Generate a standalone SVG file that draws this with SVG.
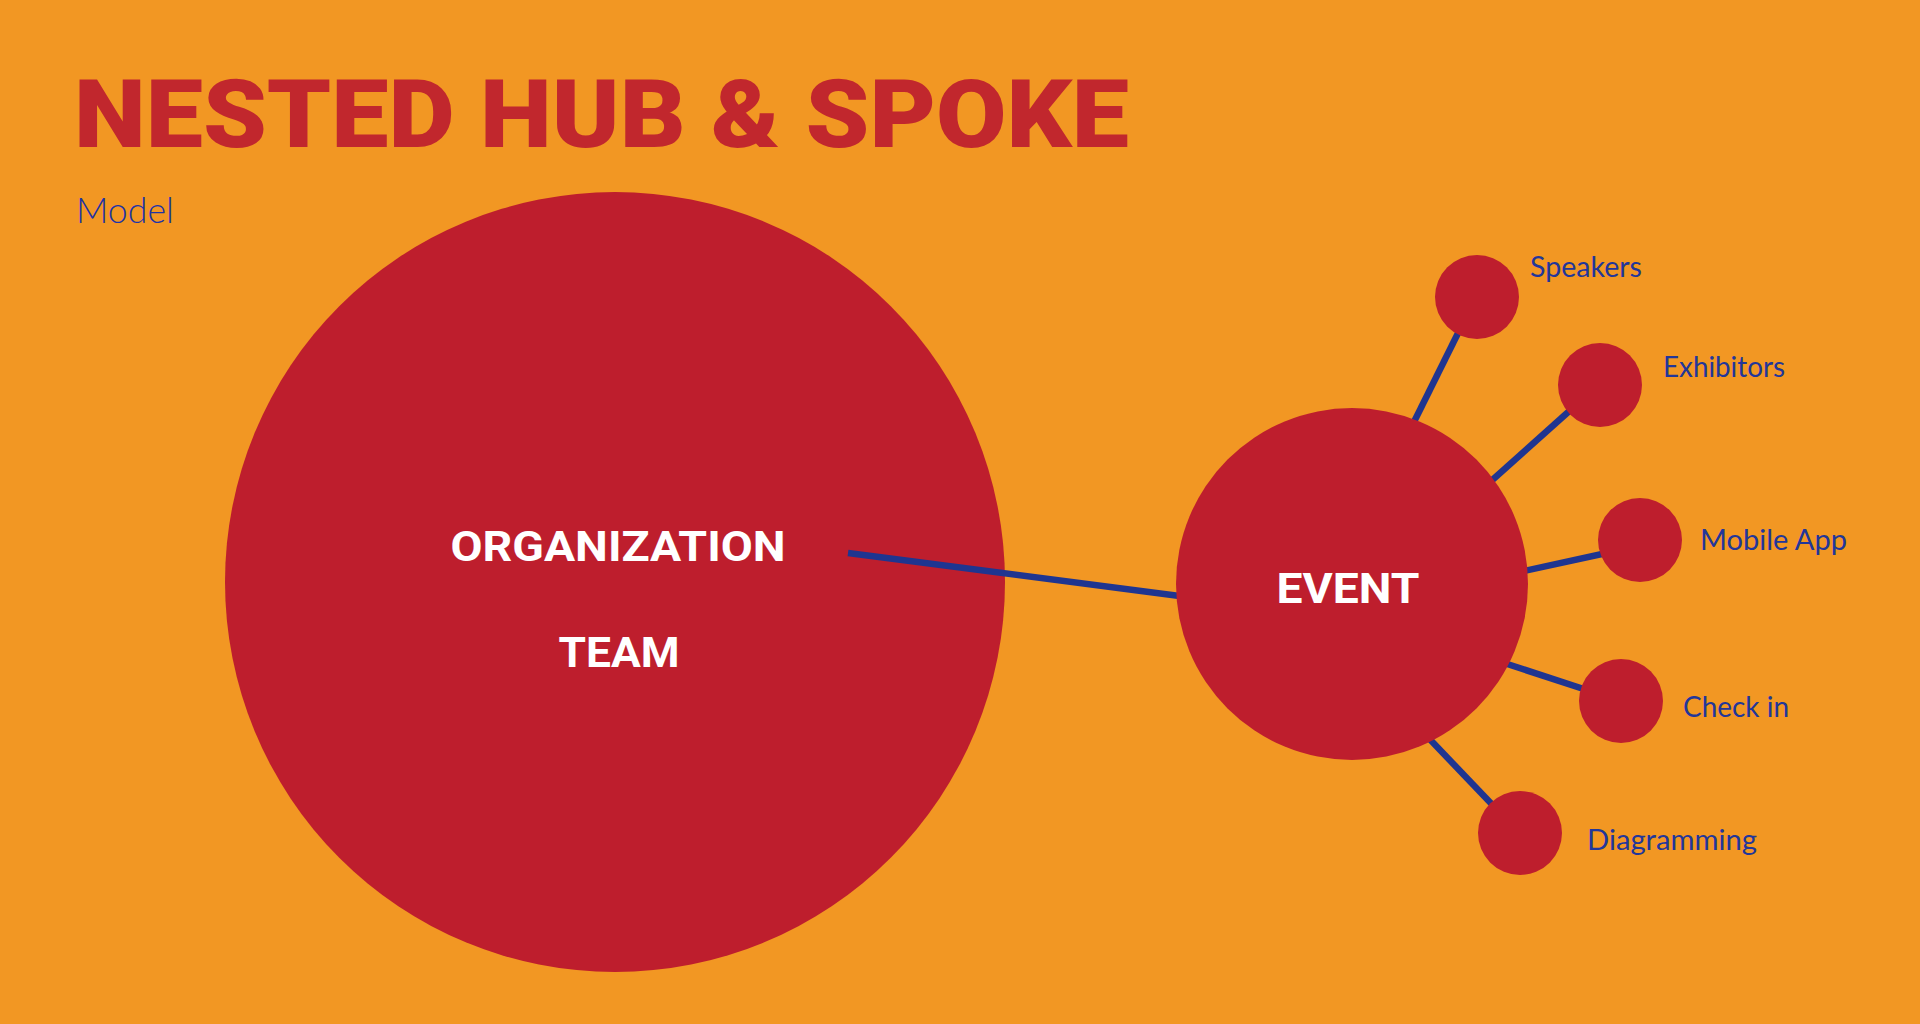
<svg xmlns="http://www.w3.org/2000/svg" width="1920" height="1024" viewBox="0 0 1920 1024">
<style>
.hub{fill:#be1e2d}
.title{font-family:Roboto,"Liberation Sans",sans-serif;font-weight:900;font-size:94px;fill:#c1272d}
.hubtxt{font-family:Roboto,"Liberation Sans",sans-serif;font-weight:700;font-size:43px;fill:#ffffff;text-anchor:middle}
.lbl{font-family:Lato,"Noto Sans","Liberation Sans",sans-serif;font-weight:400;font-size:28px;fill:#22369a}
.conn{stroke:#1f3590;stroke-width:6.5;fill:none}
</style>
<rect x="0" y="0" width="1920" height="1024" fill="#f29723"/>
<g id="title">
<text class="title" x="74" y="147" textLength="1055" lengthAdjust="spacingAndGlyphs">NESTED HUB &amp; SPOKE</text>
<text class="lbl" x="76" y="223" style="font-size:35px;font-weight:300;fill:#1f33a3" textLength="98" lengthAdjust="spacingAndGlyphs">Model</text>
</g>
<g id="node-organization-team">
<circle class="hub" cx="615" cy="582" r="390"/>
<text class="hubtxt" x="618" y="561" textLength="335" lengthAdjust="spacingAndGlyphs">ORGANIZATION</text>
<text class="hubtxt" x="619" y="667" textLength="121" lengthAdjust="spacingAndGlyphs">TEAM</text>
</g>
<g id="connectors">
<line class="conn" x1="848" y1="553" x2="1195" y2="598"/>
<line class="conn" x1="1406" y1="438" x2="1468" y2="313"/>
<line class="conn" x1="1480" y1="491" x2="1585" y2="397"/>
<line class="conn" x1="1510" y1="574" x2="1625" y2="549"/>
<line class="conn" x1="1495" y1="660" x2="1605" y2="696"/>
<line class="conn" x1="1420" y1="729" x2="1505" y2="818"/>
</g>
<g id="node-event">
<circle class="hub" cx="1352" cy="584" r="176"/>
<text class="hubtxt" x="1348" y="603" textLength="143" lengthAdjust="spacingAndGlyphs">EVENT</text>
</g>
<g id="node-speakers">
<circle class="hub" cx="1477" cy="297" r="42"/>
<text class="lbl" x="1530" y="277" textLength="112" lengthAdjust="spacingAndGlyphs">Speakers</text>
</g>
<g id="node-exhibitors">
<circle class="hub" cx="1600" cy="385" r="42"/>
<text class="lbl" x="1663" y="377" textLength="122" lengthAdjust="spacingAndGlyphs">Exhibitors</text>
</g>
<g id="node-mobile-app">
<circle class="hub" cx="1640" cy="540" r="42"/>
<text class="lbl" x="1700" y="550" textLength="147" lengthAdjust="spacingAndGlyphs">Mobile App</text>
</g>
<g id="node-check-in">
<circle class="hub" cx="1621" cy="701" r="42"/>
<text class="lbl" x="1683" y="717" textLength="106" lengthAdjust="spacingAndGlyphs">Check in</text>
</g>
<g id="node-diagramming">
<circle class="hub" cx="1520" cy="833" r="42"/>
<text class="lbl" x="1587" y="850" textLength="170" lengthAdjust="spacingAndGlyphs">Diagramming</text>
</g>
</svg>
